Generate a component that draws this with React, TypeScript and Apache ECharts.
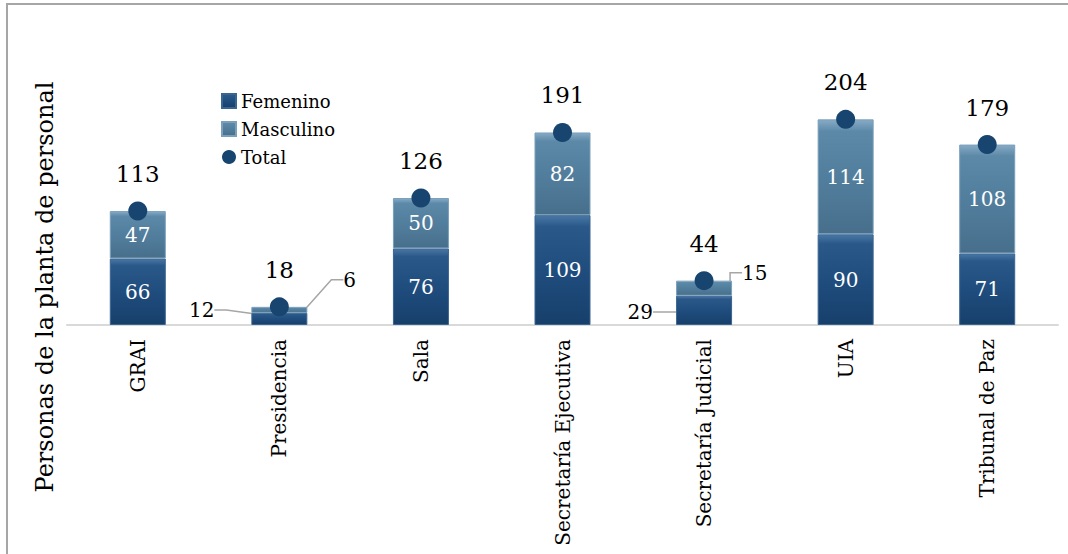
import React, { useEffect, useRef } from 'react';
import * as echarts from 'echarts';

const categories = ['GRAI', 'Presidencia', 'Sala', 'Secretaría Ejecutiva', 'Secretaría Judicial', 'UIA', 'Tribunal de Paz'];
const femenino = [66, 12, 76, 109, 29, 90, 71];
const masculino = [47, 6, 50, 82, 15, 114, 108];
const total = [113, 18, 126, 191, 44, 204, 179];
const outsideLabelIdx = [1, 4];
const yTitle = 'Personas de la planta de personal';

const FONT = '"DejaVu Serif", "Liberation Serif", serif';

export default function App() {
  const ref = useRef<HTMLDivElement>(null);
  useEffect(() => {
    if (!ref.current) return;
    const chart = echarts.init(ref.current, null, { renderer: 'svg' });
    const femGrad = new echarts.graphic.LinearGradient(0, 0, 0, 1, [
      { offset: 0, color: '#4a78a5' },
      { offset: 0.1, color: '#2a5889' },
      { offset: 0.5, color: '#1f4d7e' },
      { offset: 1, color: '#173f6b' },
    ]);
    const mascGrad = new echarts.graphic.LinearGradient(0, 0, 0, 1, [
      { offset: 0, color: '#86abc6' },
      { offset: 0.1, color: '#5d89a8' },
      { offset: 0.5, color: '#527e9d' },
      { offset: 1, color: '#476f8c' },
    ]);
    const lineStyle = { color: '#a6a6a6', width: 1.5 };
    const option: any = {
      animation: false,
      textStyle: { fontFamily: FONT },
      grid: { left: 67, right: 10, top: 73, bottom: 229 },
      legend: {
        orient: 'vertical',
        left: 216,
        top: 87,
        itemWidth: 14,
        itemHeight: 14,
        itemGap: 10,
        textStyle: { fontSize: 18, fontFamily: FONT, color: '#000' },
        data: [
          { name: 'Femenino', icon: 'rect' },
          { name: 'Masculino', icon: 'rect' },
          { name: 'Total', icon: 'circle', itemStyle: { opacity: 1 } },
        ],
      },
      xAxis: {
        type: 'category',
        data: categories,
        axisLine: { show: true, lineStyle: { color: '#d9d9d9', width: 2 } },
        axisTick: { show: false },
        axisLabel: { rotate: 90, margin: 14, fontSize: 20, color: '#000', fontFamily: FONT, interval: 0 },
      },
      yAxis: {
        type: 'value',
        min: 0,
        max: 250,
        show: false,
        splitLine: { show: false },
      },
      graphic: [
        {
          type: 'rect',
          shape: { x: 7, y: 4, width: 1200, height: 700 },
          style: { fill: 'none', stroke: '#a6a6a6', lineWidth: 2 },
          silent: true,
          z: -10,
        },
        {
          type: 'text',
          x: 45,
          y: 287,
          rotation: Math.PI / 2,
          style: {
            text: yTitle,
            fontSize: 24,
            fontFamily: FONT,
            fill: '#000',
            align: 'center',
            verticalAlign: 'middle',
          },
        },
      ],
      series: [
        {
          name: 'Femenino',
          type: 'bar',
          stack: 'total',
          barWidth: 56,
          itemStyle: { color: femGrad, borderColor: '#3a6591', borderWidth: 1 },
          label: { show: true, position: 'inside', color: '#fff', fontSize: 20, fontFamily: FONT },
          data: femenino.map((v, i) =>
            outsideLabelIdx.includes(i)
              ? { value: v, label: { color: '#000' }, labelLine: { show: true, length2: 12, lineStyle } }
              : v
          ),
          labelLayout: (p: any) => {
            if (p.dataIndex === 1) return { x: p.rect.x - 37, y: p.rect.y - 3, align: 'right', verticalAlign: 'middle' };
            if (p.dataIndex === 4) return { x: p.rect.x - 23, y: p.rect.y + p.rect.height - 13, align: 'right', verticalAlign: 'middle' };
            return {};
          },
        },
        {
          name: 'Masculino',
          type: 'bar',
          stack: 'total',
          barWidth: 56,
          itemStyle: { color: mascGrad, borderColor: '#7a9fba', borderWidth: 1 },
          label: { show: true, position: 'inside', color: '#fff', fontSize: 20, fontFamily: FONT },
          data: masculino.map((v, i) =>
            outsideLabelIdx.includes(i)
              ? { value: v, label: { color: '#000' }, labelLine: { show: true, length2: 12, lineStyle } }
              : v
          ),
          labelLayout: (p: any) => {
            if (p.dataIndex === 1) return { x: p.rect.x + p.rect.width + 36, y: p.rect.y - 27, align: 'left', verticalAlign: 'middle' };
            if (p.dataIndex === 4) return { x: p.rect.x + p.rect.width + 10, y: p.rect.y - 8, align: 'left', verticalAlign: 'middle' };
            return {};
          },
        },
        {
          name: 'Total',
          type: 'scatter',
          symbol: 'circle',
          symbolSize: 19,
          z: 5,
          itemStyle: { color: '#17456f', opacity: 1 },
          label: { show: true, position: 'top', distance: 16, color: '#000', fontSize: 23, fontFamily: FONT },
          data: total,
        },
      ],
    };
    chart.setOption(option);
    return () => chart.dispose();
  }, []);
  return (
    <div
      ref={ref}
      style={{ position: 'fixed', left: 0, top: 0, width: 1068, height: 554, background: '#fff' }}
    />
  );
}
